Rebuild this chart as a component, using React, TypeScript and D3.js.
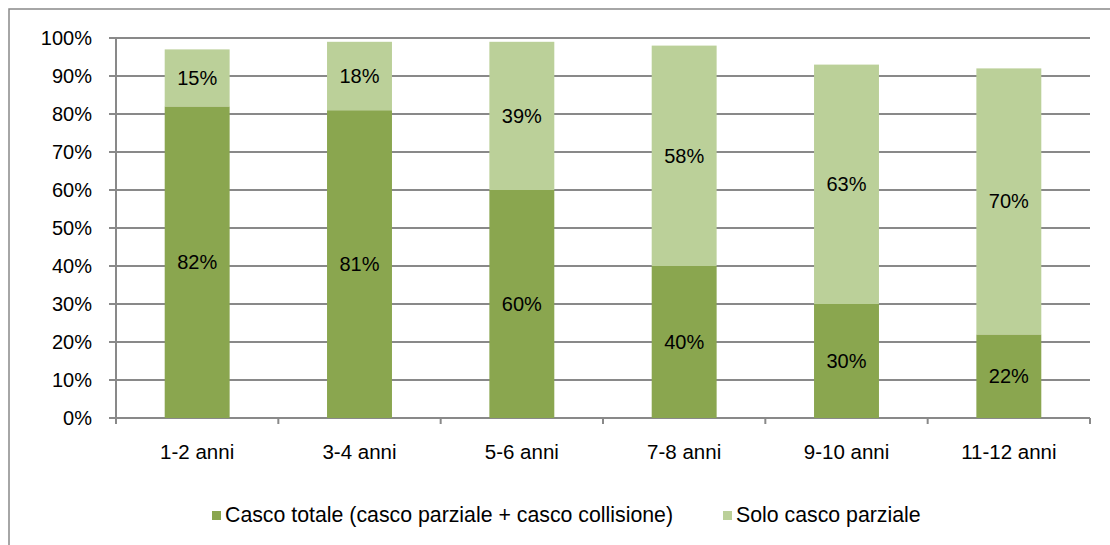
import React, { useEffect, useRef } from 'react';
import * as d3 from 'd3';

// dati
const categories = ['1-2 anni', '3-4 anni', '5-6 anni', '7-8 anni', '9-10 anni', '11-12 anni'];
const cascoTotale = [82, 81, 60, 40, 30, 22];
const soloParziale = [15, 18, 39, 58, 63, 70];
const seriesNames = ['Casco totale (casco parziale + casco collisione)', 'Solo casco parziale'];
const yTicks = [0, 10, 20, 30, 40, 50, 60, 70, 80, 90, 100];

const DARK = '#8aa64f';
const LIGHT = '#bbd099';
const GRID = '#898989';
const FONT = '"Liberation Sans", Arial, sans-serif';

const App: React.FC = () => {
    const svgRef = useRef<SVGSVGElement | null>(null);

    useEffect(() => {
        if (!svgRef.current) return;
        const width = 1110;
        const height = 545;
        const svg = d3.select(svgRef.current);
        svg.selectAll('*').remove();

        // cornice esterna (tagliata a destra e in basso)
        svg.append('rect')
            .attr('x', 9).attr('y', 9)
            .attr('width', width + 20).attr('height', height + 20)
            .attr('fill', 'white')
            .attr('stroke', GRID).attr('stroke-width', 1.5);

        const left = 116, right = 1090, top = 38, bottom = 418;

        const x = d3.scaleBand<string>()
            .domain(categories)
            .range([left, right])
            .paddingInner(0.6)
            .paddingOuter(0.3);
        const step = (right - left) / categories.length;

        const y = d3.scaleLinear().domain([0, 100]).range([bottom, top]);

        // griglia + tacche asse y
        const g = svg.append('g');
        yTicks.forEach((t) => {
            g.append('line')
                .attr('x1', left - 7).attr('x2', right)
                .attr('y1', y(t)).attr('y2', y(t))
                .attr('stroke', GRID).attr('stroke-width', 2);
            g.append('text')
                .attr('x', 92).attr('y', y(t))
                .attr('dy', '0.35em')
                .attr('text-anchor', 'end')
                .attr('font-family', FONT).attr('font-size', 20)
                .attr('fill', '#000')
                .text(`${t}%`);
        });

        // asse y
        g.append('line')
            .attr('x1', left).attr('x2', left)
            .attr('y1', top).attr('y2', bottom + 6)
            .attr('stroke', GRID).attr('stroke-width', 2);

        // tacche asse x
        d3.range(categories.length + 1).forEach((i) => {
            const xx = left + i * step;
            g.append('line')
                .attr('x1', xx).attr('x2', xx)
                .attr('y1', bottom).attr('y2', bottom + 6)
                .attr('stroke', GRID).attr('stroke-width', 2);
        });

        // barre impilate
        const rows = categories.map((c, i) => ({ c, a: cascoTotale[i], b: soloParziale[i] }));
        const bars = svg.append('g');
        rows.forEach((d) => {
            const bx = x(d.c)!;
            const bw = x.bandwidth();
            bars.append('rect')
                .attr('x', bx).attr('width', bw)
                .attr('y', y(d.a)).attr('height', y(0) - y(d.a))
                .attr('fill', DARK);
            bars.append('rect')
                .attr('x', bx).attr('width', bw)
                .attr('y', y(d.a + d.b)).attr('height', y(d.a) - y(d.a + d.b))
                .attr('fill', LIGHT);
            bars.append('text')
                .attr('x', bx + bw / 2).attr('y', y(d.a / 2))
                .attr('dy', '0.35em').attr('text-anchor', 'middle')
                .attr('font-family', FONT).attr('font-size', 20)
                .text(`${d.a}%`);
            bars.append('text')
                .attr('x', bx + bw / 2).attr('y', y(d.a + d.b / 2))
                .attr('dy', '0.35em').attr('text-anchor', 'middle')
                .attr('font-family', FONT).attr('font-size', 20)
                .text(`${d.b}%`);
            // etichetta categoria
            bars.append('text')
                .attr('x', bx + bw / 2).attr('y', 452)
                .attr('dy', '0.35em').attr('text-anchor', 'middle')
                .attr('font-family', FONT).attr('font-size', 20.5)
                .text(d.c);
        });

        // legenda
        const legend = [
            { name: seriesNames[0], color: DARK, x: 212 },
            { name: seriesNames[1], color: LIGHT, x: 723 },
        ];
        legend.forEach((l) => {
            svg.append('rect')
                .attr('x', l.x).attr('y', 511)
                .attr('width', 9).attr('height', 9)
                .attr('fill', l.color);
            svg.append('text')
                .attr('x', l.x + 13).attr('y', 515)
                .attr('dy', '0.35em')
                .attr('font-family', FONT).attr('font-size', 21.3)
                .text(l.name);
        });
    }, []);

    return (
        <div style={{ position: 'absolute', left: 0, top: 0 }}>
            <svg ref={svgRef} width={1110} height={545} style={{ display: 'block' }}></svg>
        </div>
    );
};

export default App;
